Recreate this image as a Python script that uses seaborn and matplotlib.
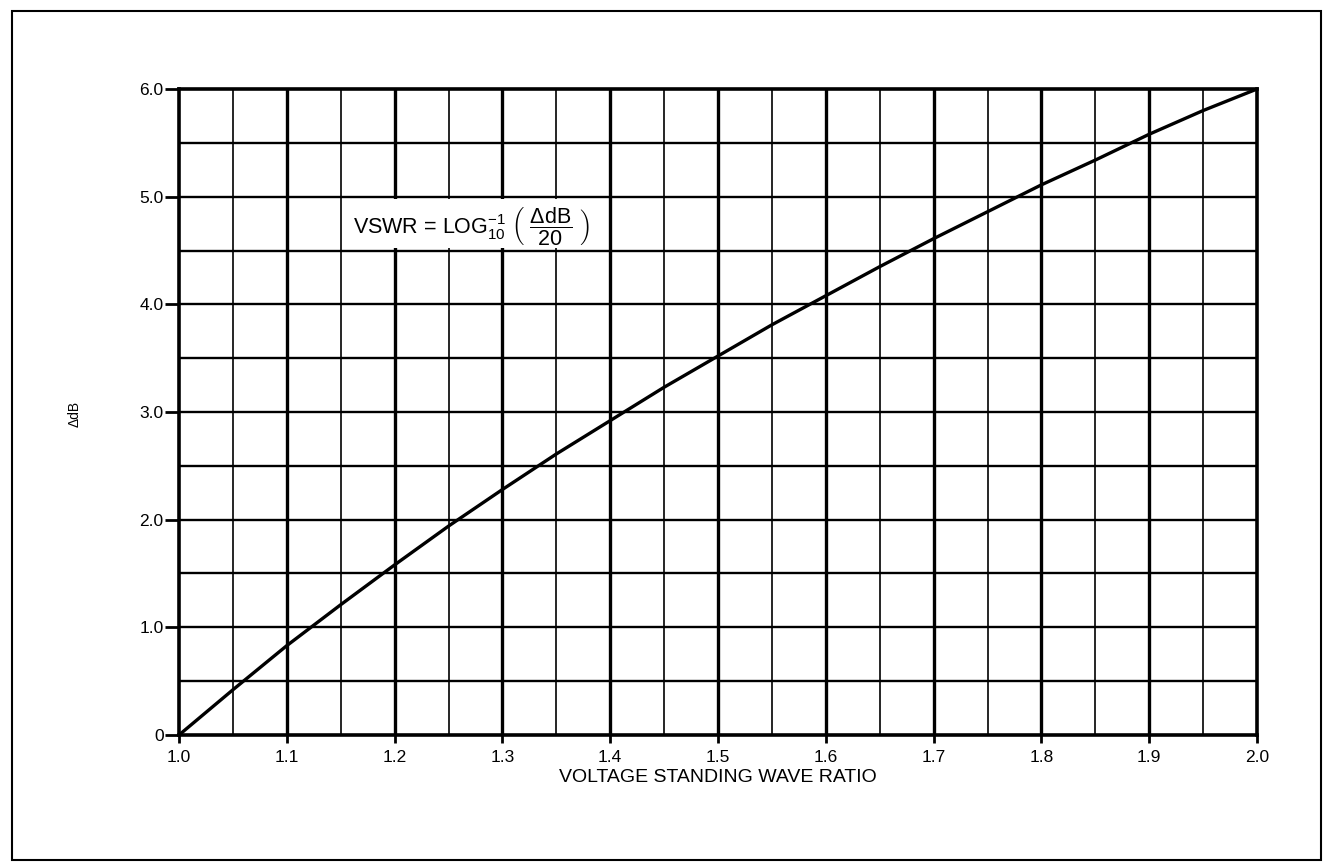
import numpy as np
import pandas as pd
import seaborn as sns
import matplotlib.pyplot as plt
from matplotlib.patches import Rectangle

# values
vswr = [1.00, 1.05, 1.10, 1.15, 1.20, 1.25, 1.30, 1.35, 1.40, 1.45, 1.50,
        1.55, 1.60, 1.65, 1.70, 1.75, 1.80, 1.85, 1.90, 1.95, 2.00]
delta_db = [0.00, 0.42, 0.83, 1.21, 1.58, 1.94, 2.28, 2.61, 2.92, 3.23, 3.52,
            3.81, 4.08, 4.35, 4.61, 4.86, 5.11, 5.34, 5.58, 5.80, 6.00]
x_ticks = [1.0, 1.1, 1.2, 1.3, 1.4, 1.5, 1.6, 1.7, 1.8, 1.9, 2.0]
x_labels = ["1.0", "1.1", "1.2", "1.3", "1.4", "1.5", "1.6", "1.7", "1.8", "1.9", "2.0"]
y_ticks = [0, 1, 2, 3, 4, 5, 6]
y_labels = ["0", "1.0", "2.0", "3.0", "4.0", "5.0", "6.0"]

df = pd.DataFrame({"vswr": vswr, "delta_db": delta_db})

sns.set_style("white")
plt.rcParams["font.family"] = ["Liberation Sans", "DejaVu Sans"]
plt.rcParams["mathtext.fontset"] = "custom"
plt.rcParams["mathtext.rm"] = "Liberation Sans"
plt.rcParams["mathtext.it"] = "Liberation Sans"
plt.rcParams["text.color"] = "black"

fig = plt.figure(figsize=(13.25, 8.65), dpi=100)
ax = fig.add_axes([0.1351, 0.1503, 0.8136, 0.7468])

# grid: thin lines every 0.05 in x, thick every 0.1; horizontal every 0.5
for xv in np.arange(1.05, 2.0, 0.1):
    ax.axvline(xv, color="black", lw=1.2, zorder=1)
for xv in x_ticks[1:-1]:
    ax.axvline(xv, color="black", lw=2.4, zorder=1)
for yv in np.arange(0.5, 6.0, 0.5):
    ax.axhline(yv, color="black", lw=1.7, zorder=1)

sns.lineplot(data=df, x="vswr", y="delta_db", color="black", lw=2.4,
             ax=ax, zorder=4)

ax.set_xlim(1.0, 2.0)
ax.set_ylim(0, 6.0)
ax.set_xticks(x_ticks)
ax.set_xticklabels(x_labels, fontsize=12.5, color="black")
ax.set_yticks(y_ticks)
ax.set_yticklabels(y_labels, fontsize=12.5, color="black")
ax.tick_params(axis="x", direction="out", length=6, width=2, color="black",
               bottom=True, pad=5)
ax.tick_params(axis="y", direction="out", length=10, width=2, color="black",
               left=True, pad=1)
for s in ax.spines.values():
    s.set_color("black")
    s.set_linewidth(2.6)

ax.set_xlabel("VOLTAGE STANDING WAVE RATIO", fontsize=14, labelpad=3,
              color="black")
ax.set_ylabel("ΔdB", fontsize=10, color="black")
ax.yaxis.set_label_coords(-0.09, 0.497)

# formula box hides grid in its cell (left edge line stays visible)
ax.add_patch(Rectangle((1.154, 4.52), 0.243, 0.46, facecolor="white",
                       edgecolor="none", zorder=3))
ax.text(1.271, 4.73,
        r"VSWR = LOG$_{10}^{-1}$ $\left(\ \dfrac{\Delta\mathrm{dB}}{20}\ \right)$",
        fontsize=15.5, ha="center", va="center", zorder=5)

# outer frame
fig.add_artist(Rectangle((0.009, 0.006), 0.988, 0.981, transform=fig.transFigure,
                         fill=False, edgecolor="black", lw=1.5))

fig.savefig("out.png", dpi=100)
